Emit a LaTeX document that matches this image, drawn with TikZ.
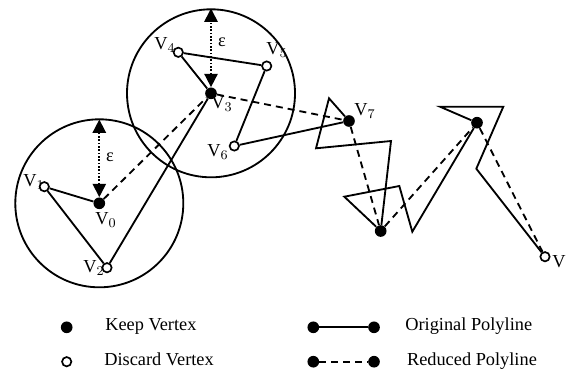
\documentclass[tikz,border=0pt]{standalone}
\usepackage{fontspec}
\setmainfont{Liberation Serif}
\usetikzlibrary{arrows.meta}

\begin{document}
\begin{tikzpicture}[
    x=0.6pt,y=-0.6pt,
    every node/.style={font=\fontsize{11}{13}\selectfont,inner sep=0pt},
    keep/.style={circle,fill=black,minimum size=7pt},
    discard/.style={circle,draw=black,fill=white,line width=1pt,minimum size=5.6pt},
    ring/.style={draw=black,line width=1.1pt},
    orig/.style={draw=black,line width=1.1pt},
    reduced/.style={draw=black,line width=1.1pt,dash pattern=on 4.2pt off 3pt},
    epsarrow/.style={{Triangle[width=8pt,length=8pt]}-{Triangle[width=8pt,length=8pt]},draw=black,line width=1pt,dash pattern=on 1pt off 1pt},
    legtext/.style={anchor=base west}
]
\useasboundingbox (0,0) rectangle (566,373);
% labels first, so that the markers sit on top
\node (l0) at (106,220) {V$_0$};
\node (l1) at (34,182) {V$_1$};
\node (l2) at (94,268) {V$_2$};
\node (l3) at (222,104) {V$_3$};
\node (l4) at (165,45) {V$_4$};
\node (l5) at (277,50) {V$_5$};
\node (l6) at (218,152) {V$_6$};
\node (l7) at (365,111) {V$_7$};
\node (ln) at (559,262) {V};
\node (e0) at (110,157) {ε};
\node (e3) at (222,42) {ε};
% vertices
\node[keep] (v0) at (99.3,203.3) {};
\node[discard] (v1) at (44.3,186.7) {};
\node[discard] (v2) at (107,267.7) {};
\node[keep] (v3) at (211,93.3) {};
\node[discard] (v4) at (178.3,52.3) {};
\node[discard] (v5) at (266.7,66) {};
\node[discard] (v6) at (234.3,146) {};
\node[keep] (v7) at (349,121) {};
\node[keep] (v8) at (380.7,231) {};
\node[keep] (v9) at (477,122.7) {};
\node[discard] (vn) at (545,256.7) {};
% bends of the original polyline
\coordinate (b1) at (329,98.3);
\coordinate (b2) at (316,148.3);
\coordinate (b3) at (391,141);
\coordinate (b4) at (344.3,196.7);
\coordinate (b5) at (399.3,186);
\coordinate (b6) at (412.3,231.7);
\coordinate (b7) at (440,106.7);
\coordinate (b8) at (503.3,106.7);
\coordinate (b9) at (476.3,168.7);
% tops of the tolerance circles
\coordinate (t0) at (99.3,119.5);
\coordinate (t3) at (211,8.5);
\draw[ring] (v0.center) circle[radius=84];
\draw[ring] (v3.center) circle[radius=84];
\draw[orig] (v0) -- (v1) -- (v2) -- (v3) -- (v4) -- (v5) -- (v6) -- (v7) -- (b1) -- (b2) -- (b3) -- (v8)
    -- (b4) -- (b5) -- (b6) -- (v9) -- (b7) -- (b8) -- (b9) -- (vn);
\draw[reduced] (v0) -- (v3) -- (v7) -- (v8) -- (v9) -- (vn);
\draw[epsarrow] (v0) -- (t0);
\draw[epsarrow] (v3) -- (t3);
% legend
\node[keep] (lk) at (66.7,327.3) {};
\node[discard] (ld) at (66.7,361.7) {};
\node[legtext] (tk) at (105,330.7) {Keep Vertex};
\node[legtext] (td) at (104,365) {Discard Vertex};
\node[keep] (lo1) at (313.3,327.3) {};
\node[keep] (lo2) at (374,327.3) {};
\node[keep] (lr1) at (313.3,361.7) {};
\node[keep] (lr2) at (374,361.7) {};
\draw[orig] (lo1) -- (lo2);
\draw[reduced] (lr1) -- (lr2);
\node[legtext] (to) at (405,330.7) {Original Polyline};
\node[legtext] (tr) at (406.7,365) {Reduced Polyline};
\end{tikzpicture}
\end{document}
